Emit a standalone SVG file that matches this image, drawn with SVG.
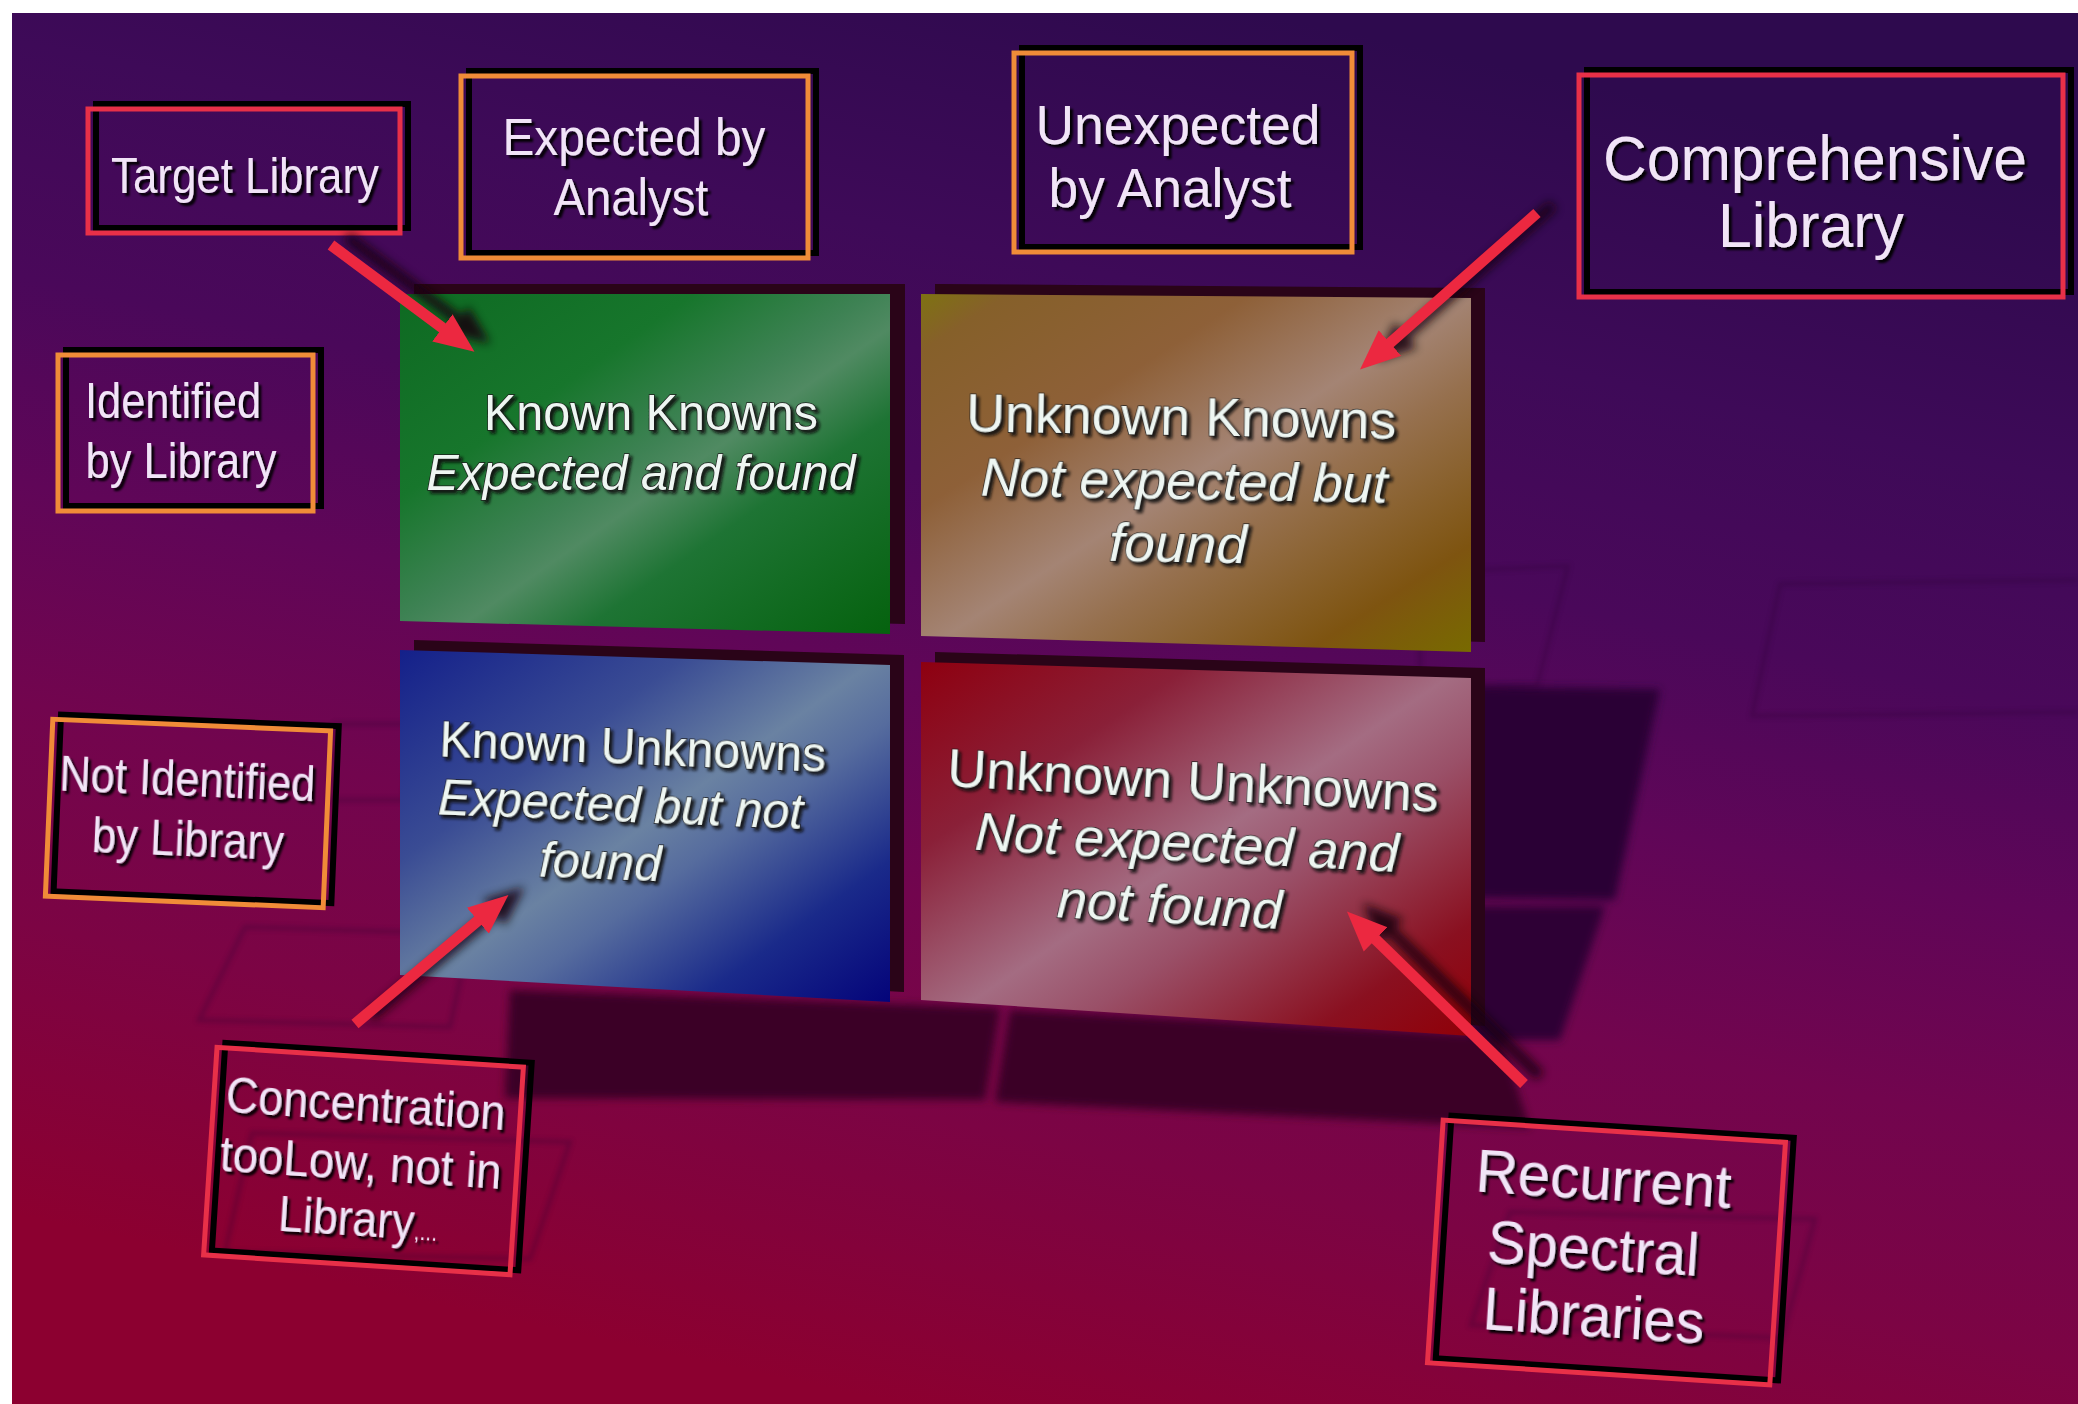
<svg xmlns="http://www.w3.org/2000/svg" width="2078" height="1404" viewBox="0 0 2078 1404">
  <defs>
    <linearGradient id="bg" gradientUnits="userSpaceOnUse" x1="1200" y1="0" x2="900" y2="1404">
      <stop offset="0" stop-color="#2e0a4e"/>
      <stop offset="0.2" stop-color="#3e0a58"/>
      <stop offset="0.36" stop-color="#4a085a"/>
      <stop offset="0.5" stop-color="#600658"/>
      <stop offset="0.65" stop-color="#72054e"/>
      <stop offset="0.8" stop-color="#7c0444"/>
      <stop offset="1" stop-color="#8c0030"/>
    </linearGradient>
    <linearGradient id="gGreen" x1="0" y1="0" x2="1" y2="1">
      <stop offset="0" stop-color="#0e6a22"/>
      <stop offset="0.3" stop-color="#17762c"/>
      <stop offset="0.48" stop-color="#3e8254"/>
      <stop offset="0.55" stop-color="#508a62"/>
      <stop offset="0.68" stop-color="#1e7434"/>
      <stop offset="1" stop-color="#05620e"/>
    </linearGradient>
    <linearGradient id="gBrown" x1="0" y1="0" x2="1" y2="1">
      <stop offset="0" stop-color="#7e7212"/>
      <stop offset="0.08" stop-color="#86602a"/>
      <stop offset="0.3" stop-color="#8e6038"/>
      <stop offset="0.5" stop-color="#a48474"/>
      <stop offset="0.62" stop-color="#96704e"/>
      <stop offset="0.85" stop-color="#7e5410"/>
      <stop offset="1" stop-color="#786a00"/>
    </linearGradient>
    <linearGradient id="gBlue" x1="0" y1="0" x2="1" y2="1">
      <stop offset="0" stop-color="#14208a"/>
      <stop offset="0.3" stop-color="#3a4c94"/>
      <stop offset="0.5" stop-color="#6a82a2"/>
      <stop offset="0.6" stop-color="#566c9e"/>
      <stop offset="0.8" stop-color="#1a2a8a"/>
      <stop offset="1" stop-color="#04047a"/>
    </linearGradient>
    <linearGradient id="gRed" x1="0" y1="0" x2="1" y2="1">
      <stop offset="0" stop-color="#8e0010"/>
      <stop offset="0.25" stop-color="#8a2038"/>
      <stop offset="0.5" stop-color="#a46c82"/>
      <stop offset="0.62" stop-color="#9a5068"/>
      <stop offset="0.85" stop-color="#8a1020"/>
      <stop offset="1" stop-color="#900008"/>
    </linearGradient>
    <filter id="soft" filterUnits="userSpaceOnUse" x="0" y="0" width="2078" height="1404">
      <feGaussianBlur stdDeviation="4"/>
    </filter>
    <filter id="faint" filterUnits="userSpaceOnUse" x="0" y="0" width="2078" height="1404">
      <feGaussianBlur stdDeviation="2.5"/>
    </filter>
    <filter id="arrowShadow" filterUnits="userSpaceOnUse" x="0" y="0" width="2078" height="1404">
      <feGaussianBlur stdDeviation="5"/>
    </filter>
    <filter id="tsh" x="-5%" y="-20%" width="115%" height="150%">
      <feDropShadow dx="3" dy="3" stdDeviation="1" flood-color="#000" flood-opacity="0.95"/>
    </filter>
    <filter id="tsh2" x="-5%" y="-20%" width="115%" height="150%">
      <feDropShadow dx="3" dy="3" stdDeviation="1.5" flood-color="#101010" flood-opacity="0.9"/>
    </filter>
    <marker id="head" markerUnits="userSpaceOnUse" markerWidth="44" markerHeight="38" refX="12" refY="19" orient="auto">
      <path d="M0,2 L40,19 L0,36 z" fill="#ec2840"/>
    </marker>
    <marker id="headSh" markerUnits="userSpaceOnUse" markerWidth="44" markerHeight="38" refX="12" refY="19" orient="auto">
      <path d="M0,2 L40,19 L0,36 z" fill="#160010"/>
    </marker>
  </defs>
  <style>
    .slab { fill: #2a0418; }
    .bsh { fill: none; stroke: #000; stroke-width: 6; }
    .box { fill: none; stroke-width: 5; }
    .red { stroke: #e83048; }
    .orange { stroke: #f08c38; }
    .lt { font-family: "Liberation Sans", Arial, sans-serif; fill: #f1e4f7; text-anchor: middle; filter: url(#tsh); }
    .pt { font-family: "Liberation Sans", Arial, sans-serif; fill: #eef6f2; stroke: #1c1c1c; stroke-width: 1.4; paint-order: stroke; text-anchor: middle; filter: url(#tsh2); }
    .it { font-style: italic; }
    .ln { stroke: #ec2840; stroke-width: 11; fill: none; marker-end: url(#head); }
    .lnsh { stroke: #160010; stroke-width: 11; fill: none; marker-end: url(#headSh); }
  </style>

  <!-- backdrop -->
  <rect width="2078" height="1404" fill="#ffffff"/>
  <rect x="12" y="13" width="2066" height="1391" fill="url(#bg)"/>

  <!-- cast shadows on floor and back wall -->
  <g id="cast-shadows" filter="url(#soft)">
    <polygon points="510,990 1000,1008 985,1100 505,1098" fill="#3a0228"/>
    <polygon points="1010,1010 1500,1036 1530,1128 995,1102" fill="#3a0228"/>
    <polygon points="1471,686 1660,689 1615,900 1471,898" fill="#2a0436"/>
    <polygon points="1471,906 1605,906 1560,1040 1471,1040" fill="#2e0434"/>
  </g>

  <!-- faint reflected outlines of the labels -->
  <g id="reflections" fill="none" stroke="#2a0430" stroke-width="4" opacity="0.3" filter="url(#faint)">
    <polygon points="1420,572 1568,566 1537,686 1420,690"/>
    <polyline points="2078,580 1780,584 1752,716 2078,712"/>
    <polygon points="245,927 470,934 450,1027 199,1020"/>
    <polygon points="335,724 410,724 405,800 330,800"/>
    <polygon points="252,1133 570,1142 530,1259 225,1252"/>
    <polygon points="1510,1212 1815,1219 1782,1338 1471,1325"/>
  </g>

  <!-- quadrant panels -->
  <g id="known-knowns">
    <polygon class="slab" points="414,284 905,284 905,624 414,611"/>
    <polygon points="400,294 890,294 890,634 400,621" fill="url(#gGreen)"/>
    <text class="pt" x="651" y="430" font-size="50" textLength="334" lengthAdjust="spacingAndGlyphs">Known Knowns</text>
    <text class="pt it" x="641" y="490" font-size="50" textLength="429" lengthAdjust="spacingAndGlyphs">Expected and found</text>
  </g>

  <g id="unknown-knowns">
    <polygon class="slab" points="935,284 1485,288 1485,642 935,626"/>
    <polygon points="921,294 1471,298 1471,652 921,636" fill="url(#gBrown)"/>
    <g transform="rotate(1 1180 490)">
      <text class="pt" x="1180" y="435" font-size="53" textLength="430" lengthAdjust="spacingAndGlyphs">Unknown Knowns</text>
      <text class="pt it" x="1184" y="499" font-size="53" textLength="407" lengthAdjust="spacingAndGlyphs">Not expected but</text>
      <text class="pt it" x="1179" y="562" font-size="53" textLength="138" lengthAdjust="spacingAndGlyphs">found</text>
    </g>
  </g>

  <g id="known-unknowns">
    <polygon class="slab" points="414,640 904,655 904,992 414,965"/>
    <polygon points="400,650 890,665 890,1002 400,975" fill="url(#gBlue)"/>
    <g transform="rotate(2.3 630 820)">
      <text class="pt" x="630" y="764" font-size="50" textLength="387" lengthAdjust="spacingAndGlyphs">Known Unknowns</text>
      <text class="pt it" x="620" y="822" font-size="50" textLength="365" lengthAdjust="spacingAndGlyphs">Expected but not</text>
      <text class="pt it" x="602" y="880" font-size="50" textLength="122" lengthAdjust="spacingAndGlyphs">found</text>
    </g>
  </g>

  <g id="unknown-unknowns">
    <polygon class="slab" points="935,652 1485,668 1485,1026 935,990"/>
    <polygon points="921,662 1471,678 1471,1036 921,1000" fill="url(#gRed)"/>
    <g transform="rotate(3 1190 860)">
      <text class="pt" x="1189" y="799" font-size="54" textLength="492" lengthAdjust="spacingAndGlyphs">Unknown Unknowns</text>
      <text class="pt it" x="1186" y="861" font-size="54" textLength="424" lengthAdjust="spacingAndGlyphs">Not expected and</text>
      <text class="pt it" x="1172" y="924" font-size="54" textLength="225" lengthAdjust="spacingAndGlyphs">not found</text>
    </g>
  </g>

  <!-- label boxes -->
  <g id="target-library">
    <rect class="bsh" x="96" y="104" width="312" height="124"/>
    <rect class="box red" x="88" y="109" width="312" height="124"/>
    <text class="lt" x="245" y="193" font-size="50" textLength="268" lengthAdjust="spacingAndGlyphs">Target Library</text>
  </g>

  <g id="expected-by-analyst">
    <rect class="bsh" x="469" y="71" width="347" height="182"/>
    <rect class="box orange" x="461" y="76" width="347" height="182"/>
    <text class="lt" x="634" y="155" font-size="52" textLength="263" lengthAdjust="spacingAndGlyphs">Expected by</text>
    <text class="lt" x="631" y="215" font-size="52" textLength="155" lengthAdjust="spacingAndGlyphs">Analyst</text>
  </g>

  <g id="unexpected-by-analyst">
    <rect class="bsh" x="1022" y="48" width="338" height="199"/>
    <rect class="box orange" x="1014" y="53" width="338" height="199"/>
    <text class="lt" x="1178" y="144" font-size="56" textLength="285" lengthAdjust="spacingAndGlyphs">Unexpected</text>
    <text class="lt" x="1170" y="207" font-size="56" textLength="243" lengthAdjust="spacingAndGlyphs">by Analyst</text>
  </g>

  <g id="comprehensive-library">
    <rect class="bsh" x="1587" y="70" width="484" height="222"/>
    <rect class="box red" x="1579" y="75" width="484" height="222"/>
    <text class="lt" x="1815" y="180" font-size="63" textLength="424" lengthAdjust="spacingAndGlyphs">Comprehensive</text>
    <text class="lt" x="1811" y="247" font-size="63" textLength="186" lengthAdjust="spacingAndGlyphs">Library</text>
  </g>

  <g id="identified-by-library">
    <rect class="bsh" x="66" y="350" width="255" height="156"/>
    <rect class="box orange" x="58" y="355" width="255" height="156"/>
    <text class="lt" x="173" y="418" font-size="50" textLength="176" lengthAdjust="spacingAndGlyphs">Identified</text>
    <text class="lt" x="181" y="478" font-size="50" textLength="191" lengthAdjust="spacingAndGlyphs">by Library</text>
  </g>

  <g id="not-identified-by-library" transform="rotate(2.4 188 813)">
    <rect class="bsh" x="57" y="720" width="278" height="177"/>
    <rect class="box orange" x="49" y="725" width="278" height="177"/>
    <text class="lt" x="186" y="796" font-size="50" textLength="256" lengthAdjust="spacingAndGlyphs">Not Identified</text>
    <text class="lt" x="189" y="856" font-size="50" textLength="192" lengthAdjust="spacingAndGlyphs">by Library</text>
  </g>

  <g id="concentration-too-low" transform="rotate(3.7 363 1161)">
    <rect class="bsh" x="218" y="1052" width="307" height="208"/>
    <rect class="box red" x="210" y="1057" width="307" height="208"/>
    <text class="lt" x="362" y="1121" font-size="50" textLength="280" lengthAdjust="spacingAndGlyphs">Concentration</text>
    <text class="lt" x="361" y="1180" font-size="50" textLength="282" lengthAdjust="spacingAndGlyphs">tooLow, not in</text>
    <text class="lt" x="362" y="1236" font-size="50" textLength="160" lengthAdjust="spacingAndGlyphs">Library<tspan font-size="24">,...</tspan></text>
  </g>

  <g id="recurrent-spectral-libraries" transform="rotate(3.7 1606 1252)">
    <rect class="bsh" x="1443" y="1126" width="343" height="243"/>
    <rect class="box red" x="1435" y="1131" width="343" height="243"/>
    <text class="lt" x="1599" y="1200" font-size="61" textLength="256" lengthAdjust="spacingAndGlyphs">Recurrent</text>
    <text class="lt" x="1593" y="1270" font-size="61" textLength="212" lengthAdjust="spacingAndGlyphs">Spectral</text>
    <text class="lt" x="1598" y="1337" font-size="61" textLength="222" lengthAdjust="spacingAndGlyphs">Libraries</text>
  </g>

  <!-- connectors -->
  <g id="connectors">
    <g transform="translate(16 -8)" filter="url(#arrowShadow)" opacity="0.85">
      <line class="lnsh" x1="331" y1="245" x2="452" y2="335"/>
      <line class="lnsh" x1="1537" y1="213" x2="1381" y2="351"/>
      <line class="lnsh" x1="355" y1="1024" x2="487" y2="913"/>
      <line class="lnsh" x1="1524" y1="1084" x2="1367" y2="931"/>
    </g>
    <line class="ln" x1="331" y1="245" x2="452" y2="335"/>
    <line class="ln" x1="1537" y1="213" x2="1381" y2="351"/>
    <line class="ln" x1="355" y1="1024" x2="487" y2="913"/>
    <line class="ln" x1="1524" y1="1084" x2="1367" y2="931"/>
  </g>
</svg>
